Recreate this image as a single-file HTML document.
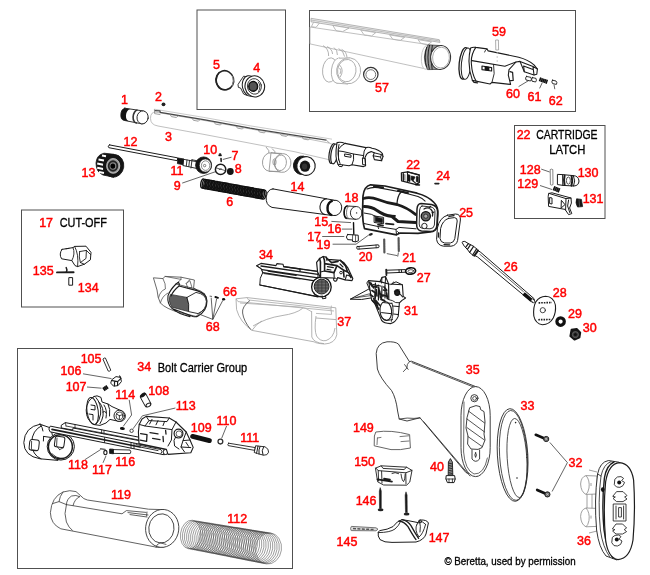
<!DOCTYPE html>
<html><head><meta charset="utf-8"><title>Beretta schematic</title>
<style>
html,body{margin:0;padding:0;background:#fff}
svg{display:block;will-change:transform}
text{font-family:"Liberation Sans",sans-serif}
.r{font-size:12.5px}
.bx{fill:none;stroke:#505050;stroke-width:1}
.r{stroke:#f00;stroke-width:.45px;fill:#f00}
.k{stroke:#000;stroke-width:.3px;fill:#000}
.d{fill:none;stroke:#1c1c1c;stroke-width:.9;stroke-linejoin:round;stroke-linecap:round}
.dw{fill:#fff;stroke:#1c1c1c;stroke-width:.9;stroke-linejoin:round;stroke-linecap:round}
.t{fill:none;stroke:#333;stroke-width:.6;stroke-linejoin:round;stroke-linecap:round}
.tw{fill:#fff;stroke:#333;stroke-width:.6;stroke-linejoin:round}
.m{fill:none;stroke:#777;stroke-width:.8;stroke-linejoin:round}
.l{fill:none;stroke:#a0a0a0;stroke-width:.8;stroke-linejoin:round}
.lw{fill:#fff;stroke:#a0a0a0;stroke-width:.8;stroke-linejoin:round}
.f{fill:#151515;stroke:none}
.fs{fill:#151515;stroke:#151515;stroke-width:.8;stroke-linejoin:round}
.ld{fill:none;stroke:#222;stroke-width:.7}
</style></head><body>
<svg width="650" height="575" viewBox="0 0 650 575">
<rect width="650" height="575" fill="#fff"/>
<rect class="bx" x="197" y="10" width="88.5" height="99.5"/>
<rect class="bx" x="309.5" y="10.5" width="266.0" height="101.0"/>
<rect class="bx" x="514.5" y="125.5" width="90.5" height="93.0"/>
<rect class="bx" x="21.5" y="210" width="102.0" height="97"/>
<rect class="bx" x="17.5" y="348.5" width="275.0" height="220.0"/>
<!-- 01_barrel.svg -->
<g id="p1">
<path class="dw" d="M124.8,108.2 L142.8,110.9 A5.6,6.6 8 0 1 142,123.9 L124.2,120.4 A4.2,6.2 8 0 1 124.8,108.2Z"/>
<path class="f" d="M124.8,108.2 L130.5,109 A4,6 8 0 0 129.8,121.5 L124.2,120.4 A4.2,6.2 8 0 1 124.8,108.2Z"/>
<path d="M137.5,110 A4,6.4 8 0 0 137,123" style="stroke-width:1.6;stroke:#333;fill:none"/>
<ellipse class="dw" cx="142.6" cy="117.4" rx="5.6" ry="6.5" transform="rotate(8 142.6 117.4)"/>
</g>
<circle cx="163.5" cy="104.3" r="1.9" style="fill:#222"/>
<g id="barrel3">
<path class="lw" d="M156,112.2 L205,120.6 L250,128.9 L300,137.4 L329.5,143.2 L333,144.6 L333,160.6 L295,151.8 L205,134.6 L158,126 Q150.5,124.8 150.5,118.4 Q150.5,111.6 156,112.2Z" style="stroke:#b0b0b0"/>
<path class="m" d="M154.4,109.2 L205,117.6 L250,125.8 L300,133.8 L332,139.2" style="stroke-width:.9;stroke:#c4c4c4"/>
<path class="m" d="M154.4,110.6 L160,110.8 L160.2,112.4 L205,119.9 L250,128.2 L300,136.2 L326.5,140.2" style="stroke-width:1.3;stroke:#484848"/>
<path class="m" d="M154.4,109.2 L154.6,113.6 L160.4,114.6 M326.5,140.2 L329.5,143.2" style="stroke-width:.8;stroke:#888"/>
<path class="l" d="M170,114.4 l1.4,2.2 l5,.9 l1.8,-1.8 M192,118.1 l1.4,2.2 l5,.9 l1.8,-1.8 M214,121.9 l1.4,2.2 l5,.9 l1.8,-1.8 M236,125.9 l1.4,2.2 l5,.9 l1.8,-1.8 M258,129.8 l1.4,2.2 l5,.9 l1.8,-1.8 M280,133.3 l1.4,2.2 l5,.9 l1.8,-1.8 M302,136.8 l1.4,2.2 l5,.9 l1.8,-1.8" style="stroke:#888"/>
</g>
<g id="gasring">
<path class="l" d="M266,147 Q270,150 269,155 M272,148.5 Q276,151 275,155" style="stroke:#8c8c8c"/>
<ellipse class="lw" cx="270" cy="162" rx="7.5" ry="9.2" transform="rotate(8 270 162)" style="stroke:#8c8c8c"/>
<path class="lw" d="M271,152.8 L282,154 L281,171.5 L269,171.2Z" stroke="none" style="stroke:#8c8c8c"/>
<path class="l" d="M271,152.8 L282,153.5 M269,171.2 L280.5,172" style="stroke:#8c8c8c"/>
<ellipse class="lw" cx="282.6" cy="163" rx="8.3" ry="9.4" transform="rotate(8 282.6 163)" style="stroke:#8c8c8c"/>
<ellipse class="l" cx="280.6" cy="162.8" rx="5.8" ry="7.8" transform="rotate(8 280.6 162.8)" style="stroke:#8c8c8c"/>
<ellipse class="l" cx="274.5" cy="162" rx="1.6" ry="3.2" style="stroke:#8c8c8c"/>
</g>
<g id="p14">
<ellipse class="fs" cx="302" cy="165.3" rx="8.6" ry="9.3" transform="rotate(10 302 165.3)"/>
<ellipse class="dw" cx="306" cy="166" rx="9.2" ry="9.4" transform="rotate(10 306 166)" style="stroke-width:1.1"/>
<ellipse class="f" cx="305" cy="166.2" rx="5.2" ry="5.6"/>
<ellipse cx="304.6" cy="166.4" rx="2.6" ry="3" style="fill:#333"/>
</g>
<g id="barrelext">
<ellipse class="dw" cx="332.6" cy="153.6" rx="3.4" ry="10" transform="rotate(9 332.6 153.6)" style="stroke-width:1.2"/>
<ellipse class="dw" cx="334.4" cy="153.9" rx="3.4" ry="10" transform="rotate(9 334.4 153.9)" style="stroke-width:1.2"/>
<path class="dw" d="M337,142.6 Q341,141.6 345,143.4 L366,147.6 Q369,146.8 372,148.2 Q379,149.4 382.4,153.6 L383,156.6 L381.6,160.8 L374.4,159.6 L373.2,155.8 L374.2,152.8 L371.2,151.6 Q367.6,152.6 366.6,154.2 L365,157.6 L365.6,165.8 L363.5,166.6 L352,164.8 L349,165.8 L338,164.2 Q334.5,158 337,142.6Z" style="stroke-width:1.1"/>
<path class="d" d="M339,144.5 Q336.5,154 340,163.5 M345,143.4 Q340,146 338.5,149.5 L338.5,160 M352,164.8 Q354.5,160 353.5,154 L363.6,155.6 M353.5,154 L343,151.5 L339,151 M366,147.6 Q363.4,150.6 363.6,155.6 L363.2,158 M374.2,152.8 L381.4,154.6 L383,156.6 M373.2,155.8 L380.6,157 L381.6,160.8 M380.6,157 L381.4,154.6" style="stroke-width:1"/>
<path class="d" d="M345,154 L351,155 L351,157.3 L345,156.3Z M362.8,158 L365.2,158.6 L365.6,165 L363,164.6Z M338,164.5 l1,1.8 l3,.4 l.6,-1.6" style="stroke-width:1"/>
</g>

<!-- 02_piston.svg -->
<g id="p13">
<path class="fs" d="M104,153.2 L114,154.3 L114,177.2 L103,175 Q96,172 96,163 Q96.5,155 104,153.2Z"/>
<path d="M98.5,159.5 l5.5,1 M97.2,163.5 l6,1.2 M97.2,167.8 l6,1.2 M99,172 l5,1 M102,155.6 l4,.7" style="stroke-width:2;stroke:#fff;fill:none"/>
<ellipse class="fs" cx="113.6" cy="165.8" rx="10.2" ry="11.4" transform="rotate(8 113.6 165.8)"/>
<ellipse cx="113.2" cy="165.9" rx="6.6" ry="7.4" style="stroke-width:.8;stroke:#ccc;fill:#999"/>
<ellipse cx="113" cy="166" rx="5.2" ry="5.8" style="fill:#222"/>
<ellipse cx="113" cy="166" rx="3.4" ry="3.8" style="fill:#888"/>
<ellipse cx="112.8" cy="166.1" rx="2.4" ry="2.7" style="fill:#000"/>
</g>
<g id="rod12">
<path class="dw" d="M109.4,144.9 L177.8,157.9 L177.2,160.7 L108.8,147.7 Q107.2,146.2 109.4,144.9Z" style="stroke-width:1"/>
</g>
<g id="p11">
<path class="fs" d="M178,158 L184,159 L183.4,164.8 L177.4,163.6Z"/>
<path class="dw" d="M184,159.4 L198.5,162 L197.5,168.6 L183.3,165.6Z"/>
<path class="d" d="M187,160 L186.3,166 M189.5,160.4 L188.8,166.6 M192,159.8 L191,168 M192,159.8 L198.5,161"/>
</g>
<g id="p10">
<ellipse class="fs" cx="203.6" cy="165.2" rx="8" ry="8.3"/>
<ellipse cx="205.3" cy="165.5" rx="6" ry="6.6" style="stroke-width:.7;stroke:#222;fill:#fff"/>
<ellipse cx="205.6" cy="165.6" rx="4.2" ry="4.8" style="stroke-width:.6;stroke:#444;fill:#fff"/>
<circle cx="204.6" cy="165.6" r="1.2" style="stroke-width:.6;stroke:#333;fill:#fff"/>
</g>
<g id="p9">
<circle cx="220.6" cy="169.4" r="5.2" style="stroke-width:1.5;stroke:#1c1c1c;fill:#fff"/>
<path class="d" d="M216.5,168 L225,170.5 M219.2,169.6 l2,-.8" style="stroke-width:.7"/>
</g>
<circle cx="230.3" cy="171.5" r="3.4" style="fill:#151515"/>
<g id="p7">
<path class="fs" d="M219.3,153.6 l1.6,0 l0,1.2 l.6,0 l0,1.2 l-2.8,0 l0,-1.2 l.6,0Z" style="stroke-width:.4"/>
<path d="M221,158.4 L221.2,161.4" style="stroke-width:1.5;stroke-linecap:round;stroke:#111"/>
</g>
<path class="ld" d="M222.8,159.5 L231.5,157.2 M182.2,183.1 L215.8,171.6"/>

<!-- 03_spring6.svg -->
<g id="spring6">
<ellipse cx="203.0" cy="183.6" rx="2.2" ry="4.6" transform="rotate(10.3 203.0 183.6)" style="stroke-width:1.35;stroke:#111;fill:none"/>
<ellipse cx="204.6" cy="183.9" rx="2.2" ry="4.6" transform="rotate(10.3 204.6 183.9)" style="stroke-width:1.35;stroke:#111;fill:none"/>
<ellipse cx="206.1" cy="184.2" rx="2.2" ry="4.6" transform="rotate(10.3 206.1 184.2)" style="stroke-width:1.35;stroke:#111;fill:none"/>
<ellipse cx="207.7" cy="184.4" rx="2.2" ry="4.6" transform="rotate(10.3 207.7 184.4)" style="stroke-width:1.35;stroke:#111;fill:none"/>
<ellipse cx="209.2" cy="184.7" rx="2.2" ry="4.6" transform="rotate(10.3 209.2 184.7)" style="stroke-width:1.35;stroke:#111;fill:none"/>
<ellipse cx="210.8" cy="185.0" rx="2.2" ry="4.6" transform="rotate(10.3 210.8 185.0)" style="stroke-width:1.35;stroke:#111;fill:none"/>
<ellipse cx="212.4" cy="185.3" rx="2.2" ry="4.6" transform="rotate(10.3 212.4 185.3)" style="stroke-width:1.35;stroke:#111;fill:none"/>
<ellipse cx="213.9" cy="185.6" rx="2.2" ry="4.6" transform="rotate(10.3 213.9 185.6)" style="stroke-width:1.35;stroke:#111;fill:none"/>
<ellipse cx="215.5" cy="185.9" rx="2.2" ry="4.6" transform="rotate(10.3 215.5 185.9)" style="stroke-width:1.35;stroke:#111;fill:none"/>
<ellipse cx="217.0" cy="186.1" rx="2.2" ry="4.6" transform="rotate(10.3 217.0 186.1)" style="stroke-width:1.35;stroke:#111;fill:none"/>
<ellipse cx="218.6" cy="186.4" rx="2.2" ry="4.6" transform="rotate(10.3 218.6 186.4)" style="stroke-width:1.35;stroke:#111;fill:none"/>
<ellipse cx="220.1" cy="186.7" rx="2.2" ry="4.6" transform="rotate(10.3 220.1 186.7)" style="stroke-width:1.35;stroke:#111;fill:none"/>
<ellipse cx="221.7" cy="187.0" rx="2.2" ry="4.6" transform="rotate(10.3 221.7 187.0)" style="stroke-width:1.35;stroke:#111;fill:none"/>
<ellipse cx="223.3" cy="187.3" rx="2.2" ry="4.6" transform="rotate(10.3 223.3 187.3)" style="stroke-width:1.35;stroke:#111;fill:none"/>
<ellipse cx="224.8" cy="187.5" rx="2.2" ry="4.6" transform="rotate(10.3 224.8 187.5)" style="stroke-width:1.35;stroke:#111;fill:none"/>
<ellipse cx="226.4" cy="187.8" rx="2.2" ry="4.6" transform="rotate(10.3 226.4 187.8)" style="stroke-width:1.35;stroke:#111;fill:none"/>
<ellipse cx="227.9" cy="188.1" rx="2.2" ry="4.6" transform="rotate(10.3 227.9 188.1)" style="stroke-width:1.35;stroke:#111;fill:none"/>
<ellipse cx="229.5" cy="188.4" rx="2.2" ry="4.6" transform="rotate(10.3 229.5 188.4)" style="stroke-width:1.35;stroke:#111;fill:none"/>
<ellipse cx="231.1" cy="188.7" rx="2.2" ry="4.6" transform="rotate(10.3 231.1 188.7)" style="stroke-width:1.35;stroke:#111;fill:none"/>
<ellipse cx="232.6" cy="189.0" rx="2.2" ry="4.6" transform="rotate(10.3 232.6 189.0)" style="stroke-width:1.35;stroke:#111;fill:none"/>
<ellipse cx="234.2" cy="189.2" rx="2.2" ry="4.6" transform="rotate(10.3 234.2 189.2)" style="stroke-width:1.35;stroke:#111;fill:none"/>
<ellipse cx="235.7" cy="189.5" rx="2.2" ry="4.6" transform="rotate(10.3 235.7 189.5)" style="stroke-width:1.35;stroke:#111;fill:none"/>
<ellipse cx="237.3" cy="189.8" rx="2.2" ry="4.6" transform="rotate(10.3 237.3 189.8)" style="stroke-width:1.35;stroke:#111;fill:none"/>
<ellipse cx="238.9" cy="190.1" rx="2.2" ry="4.6" transform="rotate(10.3 238.9 190.1)" style="stroke-width:1.35;stroke:#111;fill:none"/>
<ellipse cx="240.4" cy="190.4" rx="2.2" ry="4.6" transform="rotate(10.3 240.4 190.4)" style="stroke-width:1.35;stroke:#111;fill:none"/>
<ellipse cx="242.0" cy="190.7" rx="2.2" ry="4.6" transform="rotate(10.3 242.0 190.7)" style="stroke-width:1.35;stroke:#111;fill:none"/>
<ellipse cx="243.5" cy="190.9" rx="2.2" ry="4.6" transform="rotate(10.3 243.5 190.9)" style="stroke-width:1.35;stroke:#111;fill:none"/>
<ellipse cx="245.1" cy="191.2" rx="2.2" ry="4.6" transform="rotate(10.3 245.1 191.2)" style="stroke-width:1.35;stroke:#111;fill:none"/>
<ellipse cx="246.7" cy="191.5" rx="2.2" ry="4.6" transform="rotate(10.3 246.7 191.5)" style="stroke-width:1.35;stroke:#111;fill:none"/>
<ellipse cx="248.2" cy="191.8" rx="2.2" ry="4.6" transform="rotate(10.3 248.2 191.8)" style="stroke-width:1.35;stroke:#111;fill:none"/>
<ellipse cx="249.8" cy="192.1" rx="2.2" ry="4.6" transform="rotate(10.3 249.8 192.1)" style="stroke-width:1.35;stroke:#111;fill:none"/>
<ellipse cx="251.3" cy="192.3" rx="2.2" ry="4.6" transform="rotate(10.3 251.3 192.3)" style="stroke-width:1.35;stroke:#111;fill:none"/>
<ellipse cx="252.9" cy="192.6" rx="2.2" ry="4.6" transform="rotate(10.3 252.9 192.6)" style="stroke-width:1.35;stroke:#111;fill:none"/>
<ellipse cx="254.4" cy="192.9" rx="2.2" ry="4.6" transform="rotate(10.3 254.4 192.9)" style="stroke-width:1.35;stroke:#111;fill:none"/>
<ellipse cx="256.0" cy="193.2" rx="2.2" ry="4.6" transform="rotate(10.3 256.0 193.2)" style="stroke-width:1.35;stroke:#111;fill:none"/>
<ellipse cx="257.6" cy="193.5" rx="2.2" ry="4.6" transform="rotate(10.3 257.6 193.5)" style="stroke-width:1.35;stroke:#111;fill:none"/>
<ellipse cx="259.1" cy="193.8" rx="2.2" ry="4.6" transform="rotate(10.3 259.1 193.8)" style="stroke-width:1.35;stroke:#111;fill:none"/>
<ellipse cx="260.7" cy="194.0" rx="2.2" ry="4.6" transform="rotate(10.3 260.7 194.0)" style="stroke-width:1.35;stroke:#111;fill:none"/>
<ellipse cx="262.2" cy="194.3" rx="2.2" ry="4.6" transform="rotate(10.3 262.2 194.3)" style="stroke-width:1.35;stroke:#111;fill:none"/>
<ellipse cx="263.8" cy="194.6" rx="2.2" ry="4.6" transform="rotate(10.3 263.8 194.6)" style="stroke-width:1.35;stroke:#111;fill:none"/>
</g>

<!-- 04_magtube.svg -->
<g id="magtube">
<path class="dw" d="M273,188.9 L334,200.2 A7,7.8 10 0 1 333,215.6 L272,207.4 Q265.5,205 266.2,197 Q267.5,189 273,188.9Z" style="stroke-width:1"/>
<path class="d" d="M326.5,198.8 A6.5,8 10 0 0 325,214.6" style="stroke-width:1.1"/>
<ellipse cx="334.8" cy="207.9" rx="6.9" ry="7.7" transform="rotate(10 334.8 207.9)" style="stroke-width:.9;stroke:#111;fill:#fff"/>
<path d="M332.6,200.6 A6.9,7.7 10 0 0 331.8,215.2" style="stroke-width:2.2;stroke:#111;fill:none"/>
</g>
<g id="p18">
<path class="dw" d="M347.2,206 L356,206.5 L356,219.3 L346.8,218.6 A3.4,6.4 0 0 1 347.2,206Z"/>
<path d="M347.2,206 A3.4,6.4 0 0 0 346.8,218.6" style="stroke-width:1.6;stroke:#111;fill:none"/>
<path class="m" d="M349.5,206.2 A3.4,6.4 0 0 0 349.2,218.8" style="stroke:#555"/>
<ellipse class="dw" cx="356.2" cy="212.9" rx="5.8" ry="6.4"/>
<circle cx="356.6" cy="212.9" r=".7" style="fill:#222"/>
</g>
<g id="p15-20">
<path class="ld" d="M331.4,221.4 L351,222.6 M341.8,229.1 L352.3,229.1 M322.2,236.5 L344.3,236.5 M332.6,244.2 L356,244.2 L368.9,234.9"/>
<path d="M353.5,222.6 L353.8,234.3" style="stroke-width:1.4;stroke-linecap:round;stroke:#111"/>
<path class="dw" d="M347.6,234.5 L358.2,235.2 L358.4,240.8 L355.5,241.8 L352.5,241.4 L352.5,240 L347.6,239.6 Q345,237 347.6,234.5Z" style="stroke-width:1"/>
<path class="d" d="M352.6,234.8 L352.5,240 M355.6,235.2 L355.5,241.8" style="stroke-width:.7"/>
<ellipse cx="370.8" cy="234.4" rx="2.1" ry="1.1" transform="rotate(-20 370.8 234.4)" style="fill:#222"/>
<path class="dw" d="M357.2,246.6 L378.4,244.8 Q379.8,246 378.6,247.6 L357.4,249.2 Q355.8,248 357.2,246.6Z" style="stroke-width:1"/>
<path class="d" d="M359,246.5 L359.2,249 M376,245 L376.2,247.8" style="stroke-width:.7"/>
</g>

<!-- 05_receiver.svg -->
<g id="receiver">
<path class="dw" d="M370.5,184.8 L385,186 L417,193.2 Q428,196 434,202.5 Q438.5,207 437.8,215 L437,226 Q436,231.5 430,232 L418,233.4 L400,233 L396.5,234.8 L364.5,228.6 Q362.5,222 362.6,210 L363,196 Q364,186.5 370.5,184.8Z" style="stroke-width:1.7"/>
<path class="d" d="M367,189 Q372,186.8 378,187.6 L401,192 L418,196.5 Q423,198.5 425,201 M401,192 Q397.5,196 397,203.5" style="stroke-width:1.2"/>
<path class="d" d="M374,186.4 L383,187.6 M398,190.8 L408,193" style="stroke-width:2"/>
<path class="d" d="M363.4,198.5 Q370,196.5 378,199.5 Q388,203.5 397,204.5 Q407,207.5 415.5,214.4" style="stroke-width:2.8"/>
<path class="d" d="M364,206.6 Q371,206.5 377,210.5 Q384,215.5 392,216.5 L398,221.5 L415.5,222.4" style="stroke-width:3"/>
<path class="d" d="M364.2,213 Q372,213.5 377,217 M364.4,223.6 L378,226.5 L396,229.4 L399,227.4 L416,228.8 M396.5,234.8 L396,229.4" style="stroke-width:1"/>
<path class="fs" d="M375.4,217.2 L382.4,218.4 L382.4,222.6 L375.4,221.6Z"/>
<path class="d" d="M384.4,215.2 L395,216 M386,223.6 L393.5,224.4 M378,224.6 L383,225.6" style="stroke-width:1.8"/>
<path class="d" d="M374.5,216 L383.6,217.4 L383.6,223.8 L374.5,222.5Z M378,227 l.6,1.6 M397.6,231.6 l1.4,1.4" style="stroke-width:1"/>
<path class="dw" d="M421,203.6 L431.5,204.6 Q437.6,206 437.6,212 L436.8,226 Q436,231.2 430.5,231.4 L421.5,231 Q416.5,230.4 416.6,224 L417,209 Q417.4,203.8 421,203.6Z" style="stroke-width:1.5"/>
<path class="d" d="M422,206 L431,207 Q435.2,208 435,212.4 L434.4,225 Q434,228.6 430,228.8 L422.4,228.4 Q419,228 419.2,224 L419.6,210 Q420,206 422,206Z" style="stroke-width:.9"/>
<circle cx="425.8" cy="216.2" r="4.6" style="stroke-width:1.3;stroke:#111;fill:#666"/>
<circle cx="425.8" cy="216.2" r="2.1" style="stroke-width:.8;stroke:#222;fill:#aaa"/>
<path class="d" d="M424,209 Q428,206.5 431,209.5 Q433.5,212 432.4,216 M429,208 l1.6,-1.6 M432,212.6 l2,-.4" style="stroke-width:1.3"/>
<circle cx="424.4" cy="226" r="2.7" style="stroke-width:.9;stroke:#111;fill:#fff"/>
</g>
<g id="p22">
<path class="dw" d="M401.4,172.8 L407.5,171.8 L419.2,175 L419.4,182.4 L416,184.6 L401.6,180.8Z" style="stroke-width:1.3"/>
<path d="M402.2,173.6 L405.6,174.4 L405.6,180.8 L402.2,180Z" style="fill:#999"/>
<path class="fs" d="M407.6,174.6 L410,175.2 L410,181.4 L407.6,180.8Z M411.4,176 L415,177 L413,181 L411,179.6Z M416.4,176.4 L418.2,176.8 L418.2,182 L416.4,181.6Z"/>
<path class="d" d="M403.4,173.6 L403.4,180.6 M407.5,171.8 L407.4,181.4 M407.5,171.8 L419.2,175 M413,181 L416,183.4" style="stroke-width:1.1"/>
<path d="M415.8,184.6 L419.4,185" style="stroke-width:1.6;stroke-linecap:round;stroke:#111;fill:none"/>
</g>
<path d="M435,183.6 L438.8,183.6" style="stroke-width:1.6;stroke-linecap:round;stroke:#222"/>
<g id="p25">
<path class="dw" d="M447.5,215.2 L455.6,214 Q460.8,214.2 460.4,220 L457.6,240.4 Q456.4,245.6 451,246.2 L443.6,246.2 Q437.4,245.4 436.6,239.4 L437.4,228 Q439.5,217.5 447.5,215.2Z" style="stroke-width:1"/>
<path class="dw" d="M448.4,218.4 L454.4,217.6 Q457.4,217.8 457.2,221 L454.8,238.6 Q454,242.6 450.4,243 L444.6,243 Q440.4,242.4 440,238.4 L440.6,228.6 Q442.4,220.4 448.4,218.4Z" style="stroke-width:1"/>
<path class="d" d="M449,216.4 l5,-.8 M444,244.6 l5.6,.2 M438.6,233 l-.2,4" style="stroke-width:1.3"/>
</g>
<g id="pins21">
<path d="M384.2,239.6 L384.4,252.4 M398.6,238.2 L398.8,251" style="stroke-width:2.2;stroke-dasharray:1.1 .5;stroke-linecap:round;stroke:#555"/>
<path class="ld" d="M386.8,253.6 L397.2,255.6 M398.4,252.4 L397.7,256.6"/>
</g>

<!-- 06_rod26.svg -->
<g id="rod26">
<path class="dw" d="M463,241.6 L464.8,241.4 L468.4,243.6 L472,245.4 L474.6,247 L478.2,250.6 L480.8,252.4 L534,298.6 Q535.6,301.4 532.8,302.8 L477.6,257 L475,255.6 L472.6,255 L469.6,252.4 L467.4,249.4 L464.4,246.4 L462.4,243Z" style="stroke-width:1"/>
<path class="d" d="M479.8,254.2 L523.4,291.6" style="stroke-width:.7"/>
<path class="d" d="M465.6,247.4 L468.4,243.6 M467.4,249.4 L470.4,244.8 M469.6,252.4 L473.6,246.4 M472.6,255 L476.6,248.8" style="stroke-width:1.2"/>
<path class="d" d="M474.4,255.6 L478,250.6" style="stroke-width:2"/>
<path d="M523.6,293.6 L531.6,300.4" style="stroke-width:3.6;stroke:#111;fill:none"/>
<ellipse class="dw" cx="533" cy="300.8" rx="1.4" ry="2.2" transform="rotate(-45 533 300.8)" style="stroke-width:.8"/>
</g>
<g id="p28">
<path class="dw" d="M545.6,296.2 Q553.4,296.4 555.4,305 Q556.2,312 553.2,318 Q549.6,324.6 542.4,324.8 Q535.4,323.6 533.8,316 Q533,307 536,301.6 Q539.4,296.4 545.6,296.2Z" style="stroke-width:1.1"/>
<circle class="dw" cx="542.8" cy="310.2" r="2.6" style="stroke-width:.8"/>
<path d="M538.6,302.9 L552,302.5 M538.3,319.7 L550.8,319.5" style="stroke-width:1.6;stroke-dasharray:1.6 1;stroke:#222;fill:none"/>
</g>
<circle cx="560.6" cy="321.6" r="3.7" style="stroke-width:3.2;stroke:#111;fill:#fff"/>
<g id="p30">
<path class="fs" d="M571.4,329.6 L576.8,328.8 L580.4,332.6 L579.6,337.6 L574.6,339.8 L570.2,336.2Z" style="stroke-width:1.6"/>
<circle cx="575.4" cy="334.6" r="3.1" style="stroke-width:.6;stroke:#777;fill:#3a3a3a"/>
<circle cx="575.4" cy="334.6" r="1.5" style="fill:#111"/>
</g>

<!-- 07_trigger.svg -->
<g id="p27">
<path class="dw" d="M387,270.2 L405.4,269.6 L405.6,272.2 L387.2,273Z" style="stroke-width:1"/>
<path class="d" d="M386.2,269.6 L386.4,275" style="stroke-width:1.8"/>
<path class="d" d="M399,270 L399.2,272.6 M401.4,270 L401.6,272.4" style="stroke-width:1"/>
<ellipse cx="410.6" cy="271" rx="5" ry="3.2" transform="rotate(-8 410.6 271)" style="stroke-width:1.7;stroke:#111;fill:#fff"/>
<ellipse class="d" cx="410.8" cy="271.2" rx="2.8" ry="1.5" transform="rotate(-8 410.8 271.2)" style="stroke-width:.7"/>
</g>
<g id="p31">
<path class="dw" d="M350.6,299 L369.6,288.6 L372,291 L373.4,297.6 L362,299.4Z" style="stroke-width:1"/>
<path class="d" d="M350.6,299 L371,293.4 M356,297.6 L372.6,295.4" style="stroke-width:.7"/>
<path class="dw" d="M368.6,280.6 L380,281.6 L382,277.4 L385.6,276.6 L387.4,281 L388.6,284 L402.4,284.8 L403.2,296.4 L405.6,298 L402,300.4 L399.4,302.8 L398.2,316.4 Q395.6,322.6 390.4,323.6 Q384,323.4 381.6,320.4 L374.6,303 L371.6,300 L370.2,291 Z" style="stroke-width:1.1"/>
<ellipse class="dw" cx="385.8" cy="311" rx="5.8" ry="9.6" transform="rotate(-6 385.8 311)" style="stroke-width:1.1"/>
<path class="d" d="M392,303 Q394.6,311 391.4,321.4 M381.8,317.6 Q386,322 392.6,319.4 M399.4,302.8 Q395,303.4 392.4,300.6 L388.6,299.6" style="stroke-width:.9"/>
<path class="d" d="M388.6,284 L388.8,299.4 M380,281.6 L388.6,284 M373,284.6 L380.6,286 M375.4,283 L375,296 M378.6,285 L378.4,300 M382,286 L381.6,299 M385,284.6 L385,298" style="stroke-width:1.2"/>
<path class="d" d="M371,283 L373.6,288 M376.4,289.6 L377,296 M379.6,291 L380.4,298 M373.6,298.6 L377.6,306 M375.4,300 L380,305.4 M383.4,290 L386.6,291 M383,295 L387.6,296.4" style="stroke-width:1.6"/>
<path class="d" d="M382,277.4 L381.6,283 M385.6,276.6 L385.2,283.6 M391,284.4 L396,281.8 L402.4,284.8 M392.6,283.6 L393.4,282" style="stroke-width:1"/>
<circle cx="397.2" cy="292.8" r="2.5" style="stroke-width:1.2;stroke:#111;fill:#222"/>
<path class="d" d="M394.4,291.4 Q396,288.6 399.4,290 M400,294 L402.6,296.8" style="stroke-width:1.1"/>
<path class="d" d="M369.6,282.6 L372.4,286.4 L377,287 M372,290.6 L375.6,293 L375,298.6 M378.6,288 L379.6,293.6 L383,296 M384,287 L386.6,290 M372.6,300.6 L376,304.4 L378.6,309 M381,299.4 L384.6,300.6 M386.6,293 L387.4,298.6 M370.4,294.6 L373,296.6" style="stroke-width:1.8"/>
<path class="d" d="M383.6,302.6 L391.6,303.4 M381.6,312.6 L390.6,313.6 M392.6,306 L399,306.6 M393.6,314 L398.6,314.6 M368.4,280.6 L366.8,283 L370.2,291" style="stroke-width:1"/>
</g>

<!-- 08_bolt34.svg -->
<g id="bolt34">
<path class="dw" d="M262.8,272.4 L318,281 L318,296.6 L259.8,285 Q259.2,278 262.8,272.4Z" style="stroke-width:1"/>
<path class="d" d="M259.8,285 L318,296.8" style="stroke-width:1.2"/>
<path class="dw" d="M256.6,265.8 L261,263.4 L276,265.6 L277,263.6 L283,264.2 L283.6,266.6 L318,271.4 L318,281.4 L262.8,272.6 L261,268.6Z" style="stroke-width:1.1"/>
<path class="d" d="M261,266 L318,274.4 M262,269.6 L318,277.8 M268,271 L296,275.4 M283.6,266.6 L300,269 L300,271.6" style="stroke-width:1.3"/>
<path class="d" d="M256.6,265.8 L261,268.6 M264,273.6 L300,279 M300,269 L318,271.6" style="stroke-width:.8"/>
<circle cx="321.4" cy="287" r="9.8" style="stroke-width:1.3;stroke:#111;fill:#fff"/>
<circle cx="321.6" cy="286.6" r="7.4" style="stroke-width:1;stroke:#222;fill:#6a6a6a"/>
<path d="M316,282 L327.6,282 M315,285 L328.6,285 M315,288 L328.6,288 M316.4,291 L327,291 M321.8,279 L321.8,292.6 M318,280 L318,292 M325.6,280 L325.6,292" style="stroke-width:.7;stroke:#333;fill:none"/>
<path class="d" d="M313.4,292 Q316,297.6 322.6,296.2 M322,296.4 l.6,2.4 l3.4,-.6 l-.6,-2.4" style="stroke-width:1"/>
<path class="dw" d="M316.6,262.4 L319.6,258.6 L323.2,256.6 L326,257 L328,259.4 L340.4,260.4 L344,262.8 L348,268.2 L352.8,278.6 L352,280.6 L345.2,279.8 L341,278.6 L337.6,277.6 L336.6,280.6 Q334.6,281.6 333.8,279.8 L333.6,278 L320.4,277.6 L317.6,272Z" style="stroke-width:1.2"/>
<path class="d" d="M319.6,258.6 Q321,262 320.4,266 L320.4,277.6 M323.2,256.6 Q325,260 324.6,263.6 L337,265.6 L343.4,270 L344,277 M328,259.4 L331.6,262.6 L338,261.4 M324.6,263.6 L324.6,271 L334,272.6 L337,265.6 M340.4,260.4 L345.6,266 L347.6,272 M343.4,270 L348.6,272.6 L351,277.6" style="stroke-width:1.6"/>
<path class="d" d="M327.4,266.6 L333.4,267.6 M327,269.4 L331,270 M334,272.6 L334.2,277.6 M324.6,271 L320.4,272 M345.2,279.8 L346.6,275 L351.4,276.6 M326,257 L327,260.6 M340,264 L343,267" style="stroke-width:1.1"/>
<circle cx="341" cy="272.6" r="1.3" style="stroke-width:.9;stroke:#111;fill:#fff"/>
<circle cx="335.2" cy="279.6" r="1.5" style="stroke-width:.9;stroke:#111;fill:#fff"/>
</g>

<!-- 09_forendcap.svg -->
<g id="forendcap">
<path class="tw" d="M153.4,277.8 L163,278.6 L165,276.4 L181,277.2 L194.4,280 L193.6,288 L206,296 L205.6,308 L196,316.4 L180,312.6 Q166,309 160.4,303 Q157.6,298 157,290 Z" style="stroke-width:.8;stroke:#444"/>
<path class="t" d="M163,278.6 Q166,284 165.4,289 Q160,291 158.6,297.6 M165,276.4 L181,279.4 L178,282.4 M181,277.2 L181,279.4 M160.4,303 Q162,296 168,293 M186,283.6 L190,279.4 M190,281 L192,287.6 L188,288.6 L186.4,284 Z" style="stroke-width:.8;stroke:#555"/>
<path d="M170.4,294.4 L187,297.4 Q189.6,304 188.6,311.6 L172,307.2 Q167.6,301 170.4,294.4Z" style="stroke-width:.7;stroke:#222;fill:#5e5e5e"/>
<path class="dw" d="M187,297.4 L196,292.4 Q206,294 206.4,301.6 Q206.4,309.6 198,313.6 L188.6,311.6 Q189.6,304 187,297.4Z" style="stroke-width:.9"/>
<path class="d" d="M168,295.6 Q170,290 176,284 L178.4,282.2 Q180,284 179,286 Q173,291 171,296 M179,286 L196,290.4 Q206.6,293 207,301 Q207,311 198,316 Q196,317.4 193,316.4 L172,308.4 Q167,304 168,295.6 M172,308.4 Q178,314 190,316.6" style="stroke-width:1.1"/>
<path class="d" d="M176,284 L194,288.6 Q201,290.4 205,294" style="stroke-width:.7"/>
<path d="M209.6,296 L212,296.6" style="stroke-width:1.2;stroke:#777;fill:none"/>
<path d="M215.4,297 L218,297.8" style="stroke-width:1.9;stroke-linecap:round;stroke:#111;fill:none"/>
<ellipse cx="223.6" cy="299.2" rx="1.6" ry="1.2" style="fill:#111"/>
<path class="ld" d="M200.4,314.6 L212.8,319.4 L211.2,297.8 M212.8,319.4 L216.6,298.8 M212.8,319.4 L222.8,300.4"/>
</g>

<!-- 10_forend37.svg -->
<g id="forend37">
<path class="lw" d="M236,298.8 L247,297.6 L335.8,307.8 L336.8,334.8 Q335,343.6 324.6,344 Q316,343.4 314,341.8 L252,330.4 Q240,322 236.6,309.6Z"/>
<path class="l" d="M236,298.8 L238,301.6 L334,311 M247,297.6 L248.6,300 L331,309 L331.4,305.6 M240,303 L300,307 Q306,307.6 311.4,311.6 M331,309 L331.6,314.4 L316,313.4" style="stroke:#aaa"/>
<path class="l" d="M311.6,311 L311.8,337 Q314,343 324,343.6 M316,316 Q314,330 316.6,336 Q320,341.6 326,340.6 Q333.6,338 335,328 M316,318 L336,319.6 M253,326 Q266,318 282,315.6 Q296,313.6 302.6,308.4 M252,330.4 Q256,324 262,321"/>
<path d="M250,300.4 Q241.6,307 242.6,313 Q243.6,321 250.8,329.6" style="stroke-width:.9;stroke:#555;fill:none"/>
</g>

<!-- 11_box1.svg -->
<g id="p5">
<ellipse cx="224.8" cy="80.2" rx="8.9" ry="9.6" transform="rotate(-15 224.8 80.2)" style="stroke-width:1.5;stroke:#222;fill:#fff"/>
<path d="M219,72.6 Q213.6,80 218.6,87.4 Q222.4,91 228,89.2" style="stroke-width:1.4;stroke:#222;fill:none"/>
<path d="M232.6,76 Q234.6,81.6 232,86" style="stroke-width:1;stroke:#888;fill:none"/>
</g>
<g id="p4">
<path class="dw" d="M246,76.6 L243.6,76.2 L239.6,82 L238,84.6 L238.4,87.4 L240.6,88 L243.6,94 L247,95.4Z" style="stroke-width:.9"/>
<ellipse class="dw" cx="250" cy="86" rx="7.6" ry="10.4" transform="rotate(-12 250 86)" style="stroke-width:1"/>
<ellipse class="dw" cx="254.8" cy="86.4" rx="9.8" ry="10.6" transform="rotate(-12 254.8 86.4)" style="stroke-width:1.1"/>
<ellipse class="dw" cx="254.4" cy="86.4" rx="7" ry="7.8" transform="rotate(-12 254.4 86.4)" style="stroke-width:.8"/>
<ellipse cx="253.2" cy="86.4" rx="4.4" ry="4.8" style="stroke-width:1.5;stroke:#111;fill:#555"/>
<path class="d" d="M258.4,82 Q261.4,86.4 258.6,91.6" style="stroke-width:.8"/>
</g>

<!-- 12_box2.svg -->
<g id="box2barrel">
<path class="lw" d="M310,27 L421.5,43.6 L428,45 L428,69.4 L310,43.9Z" style="stroke:#b0b0b0"/>
<path d="M311,18.3 L439.3,39.7 L440,42.4 L311,21.8Z" style="stroke-width:.8;stroke:#a4a4a4;fill:#ececec"/>
<path class="l" d="M311,20 L439.6,41" style="stroke:#b0b0b0"/>
<path class="lw" d="M313.6,22.2 L311.4,26.6 L316,27.4 L319.4,23.2Z M332.8,25.4 L336,30.6 L342.6,31.6 L349,28.1Z M360.8,30.1 L364,34.8 L371.6,35.9 L375.8,32.6Z M389.6,34.9 L392.8,39.2 L400.4,40.3 L404.6,37.4Z M418,39.6 L420.6,43.2 L428,44.6 L431.6,41.9Z" style="stroke:#aaa"/>
<path class="l" d="M323,45.6 Q329,49 328.6,56 M327,46.6 Q332,48.6 332.6,54 M334,47.6 Q337.6,50 337.4,55 M338.6,48.6 Q343.6,50.6 344.6,56.6 M341.6,49.4 Q346.6,51.6 347,57.4"/>
<ellipse class="lw" cx="330" cy="70" rx="7.4" ry="12.2" transform="rotate(6 330 70)"/>
<ellipse class="lw" cx="338" cy="70.6" rx="6.6" ry="12.6" transform="rotate(6 338 70.6)"/>
<path d="M338,58 L350,58.4 L350,83.6 L337,83.2Z" style="fill:#fff"/>
<path class="l" d="M338.6,58.2 L350,58 M336.6,83.2 L348,84"/>
<ellipse class="lw" cx="348.6" cy="70.8" rx="12" ry="13" transform="rotate(8 348.6 70.8)"/>
<ellipse class="l" cx="346.8" cy="70.6" rx="9.2" ry="11.2" transform="rotate(8 346.8 70.6)"/>
<path class="l" d="M339.6,65 Q344.6,70 340,77.4 M339.6,68 Q342,70.6 340,74"/>
<circle cx="370.8" cy="74.6" r="7.2" style="stroke-width:1.2;stroke:#333;fill:#fff"/>
<circle cx="370.8" cy="74.6" r="4.9" style="stroke-width:.9;stroke:#666;fill:#fff"/>
<ellipse class="lw" cx="426" cy="57.4" rx="4.6" ry="11.8" transform="rotate(4 426 57.4)" style="stroke:#bbb"/>
<path d="M428,44.8 L440.6,45.6 L440.6,69.4 L427.6,69.6 Q421,57 428,44.8Z" style="stroke-width:.8;stroke:#444;fill:#999"/>
<path d="M426.8,47 Q423.6,57 426.6,67.4 M429.6,45 Q426.4,57 429.4,69.4 M432.4,45 Q429.4,57 432.2,69.6" style="stroke-width:1;stroke:#222;fill:none"/>
<ellipse cx="440.6" cy="57.5" rx="10" ry="12" transform="rotate(4 440.6 57.5)" style="stroke-width:1;stroke:#333;fill:#fff"/>
<ellipse cx="441" cy="57.6" rx="8.4" ry="10.4" transform="rotate(4 441 57.6)" style="stroke-width:.8;stroke:#999;fill:#fff"/>
</g>
<g id="ext59">
<ellipse class="dw" cx="464.2" cy="63.4" rx="5" ry="15.8" transform="rotate(6 464.2 63.4)" style="stroke-width:1.3"/>
<ellipse class="dw" cx="466.4" cy="63.6" rx="5" ry="15.8" transform="rotate(6 466.4 63.6)" style="stroke-width:1"/>
<path class="dw" d="M470.6,48 Q473,46.8 475.8,47.4 L486.9,48.9 L488.2,50.9 L518.7,57.2 Q528,59.6 534,64.8 L537.4,69 L536.8,74.2 L534,75 L524.3,71.8 L520,61.4 L516,62 L509,69.6 L508.3,75.2 L510.6,84.4 L492,82.4 L490,84 L472.4,80.4 Q466.6,64 470.6,48Z" style="stroke-width:1.1"/>
<path class="d" d="M475.8,47.4 Q470.6,55 471.4,64 Q472,74 476,81 M472,60.6 L504.9,66.2 L516,62 M520,61.4 L533,66.6 L537.4,69 M533,66.6 L534,75 M524.3,71.8 L523.6,66 L533,69.6" style="stroke-width:1.1"/>
<path class="d" d="M492,82.4 Q495.6,74 493.6,64.4 M486.9,48.9 Q485,50 484.6,52" style="stroke-width:.9"/>
<path class="d" d="M482,66 L491.6,67.6 L491.6,71 L482,69.6Z M510,71.6 L512.6,72.4 L513.2,80.4 L510.6,80.6 M472.4,80.4 l1.6,2 l3.6,.4" style="stroke-width:1.2"/>
<path class="fs" d="M485,66.6 L489,67.2 L489,70.4 L485,69.8Z"/>
<path class="tw" d="M495.6,40 L498.4,40 L498.6,50 L495.8,50Z" style="stroke-width:.8;stroke:#999"/>
<path class="l" d="M497.2,52 L497.2,64" style="stroke-dasharray:2 2;stroke:#bbb"/>
</g>
<g id="p60-62">
<path class="dw" d="M526.4,76.4 L531,77.4 Q532,79.4 530.6,81 L526,80 Q524.8,78 526.4,76.4Z M532.4,77.6 L536,78.4 Q537,80.4 535.6,82 L532,81.2 Q531,79.4 532.4,77.6Z" style="stroke-width:.9"/>
<path d="M539.4,79.2 L547.4,82" style="stroke-width:4;stroke-dasharray:1.6 .15;stroke:#111;fill:none"/>
<path class="dw" d="M552.4,80.2 L556,81 Q557.6,82.6 556.4,84.4 L552.6,83.6 Q551,82 552.4,80.2Z" style="stroke-width:.9"/>
<path class="ld" d="M518.6,86.6 L528.6,80.6 M539.6,88.4 L542.2,82.8 M554.8,89.2 L554,84.6"/>
</g>

<!-- 13_latchbox.svg -->
<g id="latchbox">
<path class="tw" d="M550.2,169.6 Q551.4,168.6 552.8,169.6 L553,184.6 Q551.6,185.6 550.4,184.6Z" style="stroke-width:.8;stroke:#666"/>
<path class="ld" d="M541.2,169.1 L549.7,172 M540,185.5 L552,189.5"/>
<path d="M553.4,188 L559.6,190.6" style="stroke-width:4.4;stroke-dasharray:1.6 .15;stroke:#111;fill:none"/>
<path class="dw" d="M557.8,174.4 L562.6,174.6 L573,175.6 Q578.6,175.8 579,181 Q578.8,185.6 574,186 L563,185.4 L557.8,184.6Z" style="stroke-width:1"/>
<path class="d" d="M562.6,174.6 L562.8,185.4 M573.4,175.6 Q576,181 573.6,186" style="stroke-width:1"/>
<path class="d" d="M564.6,175.6 Q563.4,180.4 564.6,185 M571.6,176.2 Q573,181 571.4,185.6" style="stroke-width:2"/>
<ellipse cx="568.4" cy="180.6" rx="2" ry="3.6" style="stroke-width:.9;stroke:#444;fill:#fff"/>
<path class="dw" d="M549,193.4 L552,192.8 L571,198 L571.4,203 L569.6,208 L571.8,213.6 L568.6,214.6 L565,209.4 L548.6,206.4 L548.2,197Z" style="stroke-width:1"/>
<path class="d" d="M550,197.6 L552,198 L552,204 L550,203.6Z M561.6,200.6 L565,204.6 L561.4,207.8Z M566,198.6 L565.6,210 M568.6,200 L567.6,206 L569.8,212.6 M549,193.4 L566,198.6 L571,198" style="stroke-width:1"/>
<path class="fs" d="M576.6,198.8 L581.4,199.4 L582.6,206.6 L577.6,207 Q575,203 576.6,198.8Z"/>
<path d="M579,199.6 L579.6,206.6" style="stroke-width:.6;stroke:#777;fill:none"/>
</g>

<!-- 14_cutoff.svg -->
<g id="cutoff">
<path class="dw" d="M62,249.4 L73,247.6 L74.6,246.4 L86,246.2 L91,252.4 L90.4,259.8 L84.4,264.2 L77.6,266.6 L75,265.6 L71.8,260.6 L61.6,258.8 Q58.6,254 62,249.4Z" style="stroke-width:1"/>
<path class="d" d="M73,247.6 Q75.6,254 71.8,260.6 M74.6,246.4 Q79,254 77.6,266.6 M79.6,251.6 L86.4,250.4 L90.6,254.6 M79.6,251.6 Q78.6,257 80.4,262.6 L84.4,264.2 M80.4,262.6 L86,258.4 L86.4,250.4 M66,248.8 L69,248.4" style="stroke-width:.9"/>
<path class="d" d="M57,272.4 L73.6,272.2" style="stroke-width:1.9"/>
<path class="d" d="M66.2,267.6 Q67.6,270 66.4,272" style="stroke-width:1.5"/>
<rect class="dw" x="69.2" y="277.6" width="3.4" height="7.6" style="stroke-width:1"/>
</g>

<!-- 15_bcg_top.svg -->
<g id="bcg-small">
<path class="dw" d="M103.2,358.8 Q104.2,357.6 105.4,358 L110.8,370.2 Q110,371.6 108.6,371.2Z" style="stroke-width:.9"/>
<path class="ld" d="M83,373.8 L111.5,378.6 M87,387 L101.5,388.2"/>
<path class="dw" d="M112,379.6 L116,376.6 L120.6,377.4 L121.4,381.6 L118,385.6 L113.6,386.2 L111,383.4Z" style="stroke-width:1"/>
<path class="d" d="M112.4,380.6 L117.6,381.6 L121,378.4 M117.6,381.6 L117.6,385.4 M114.6,381.4 L114.4,385.6 M119.6,376 L120.6,377.4" style="stroke-width:1.2"/>
<path d="M103.4,389.6 L107.6,386.6" style="stroke-width:4;stroke-dasharray:1.6 .15;stroke:#111;fill:none"/>
<path class="dw" d="M140.4,396.6 L145.6,393.4 L150.8,403.4 Q150,406.4 146,406.8 Z" style="stroke-width:1"/>
<ellipse class="fs" cx="143" cy="395" rx="3" ry="1.5" transform="rotate(-32 143 395)"/>
<ellipse class="dw" cx="148.4" cy="405" rx="2.6" ry="1.6" transform="rotate(-32 148.4 405)" style="stroke-width:1.1"/>
</g>
<g id="bolthead">
<path class="dw" d="M94,396.6 L97,395.8 L101,397.4 L102,402 L108,404 L112,406.6 L119.6,410 Q125.6,411.6 125.4,416.6 Q124.6,421.6 119,421.4 L110,419.4 L106,423 L100,425.4 L94,424.6 Q86,420 86.2,410 Q87,400 94,396.6Z" style="stroke-width:1"/>
<ellipse class="d" cx="92.6" cy="411" rx="5.6" ry="13.6" transform="rotate(-8 92.6 411)" style="stroke-width:1"/>
<path class="d" d="M96,397.6 Q101.6,404 100.6,414 Q99.6,421 96,424.4 M99.6,402.6 Q104,408 103,416 Q102,420.6 100,423.6 M91,405 L95,405.6 L95,410 L91,409.4 M89,414 L93,414.6 L93,420 M104,405 Q107.6,410 106,418 M108,404 Q110.6,409 109.6,416 M102.6,412 Q104.6,410.6 106,412.4" style="stroke-width:1"/>
<ellipse class="dw" cx="119.2" cy="415.8" rx="5.2" ry="5.6" style="stroke-width:1"/>
<ellipse class="d" cx="119.4" cy="415.8" rx="3.4" ry="3.8" style="stroke-width:.8"/>
<path class="d" d="M119.4,415.8 L116.6,414 M119.4,415.8 L122.4,414.6 M119.4,415.8 L119.4,419.4" style="stroke-width:.8"/>
</g>
<g id="bcg-leaders">
<path class="ld" d="M129.2,399.8 L131.6,415 L123.2,426.4 M175.4,408 L142.4,415.8 L133,428.8 M106,455.8 L103,462.8 M85,459.6 L100.6,449.6 M226.6,426 L221.6,438.4"/>
</g>

<!-- 16_bcg_carrier.svg -->
<g id="slide">
<path class="dw" d="M40,424.2 L50.8,428 L58,460.4 L40,458.8 Q24,456 23.8,442.6 Q24.6,427 40,424.2Z" style="stroke-width:1"/>
<path class="d" d="M42,425.6 Q32,430 31.6,443 Q32,455 41,458.8 M40,424.2 Q42.6,427 43,431" style="stroke-width:1"/>
<rect class="dw" x="29.4" y="439.8" width="9.6" height="10.6" rx="2.4" transform="rotate(6 34 445)" style="stroke-width:1"/>
<path class="d" d="M31.6,441.4 L31.4,449.6 L37.4,450.6" style="stroke-width:.8"/>
<path class="d" d="M43.6,436.4 L52,437.6 M43.6,436.4 L43.4,441" style="stroke-width:1"/>
<circle cx="60.8" cy="446.5" r="13.6" style="stroke-width:1;stroke:#1c1c1c;fill:#fff"/>
<circle class="d" cx="60.4" cy="446.7" r="12" style="stroke-width:1.5"/>
<rect class="dw" x="54.8" y="436.6" width="9.6" height="10.6" rx="2" transform="rotate(8 59.6 442)" style="stroke-width:1"/>
<path class="d" d="M57,438 L56.6,446 L59.6,449.6 M59.6,449.6 L63.4,447.8" style="stroke-width:.8"/>
<path class="d" d="M52,453.6 Q56,458.6 63,458.4" style="stroke-width:.9"/>
</g>
<g id="rails">
<path class="dw" d="M61.6,425 L65.4,422.6 L139,437.2 L139,440.6 L73.2,428 L72.6,430 L61.6,428Z" style="stroke-width:1"/>
<path class="d" d="M65.4,422.6 L66,426 M75,424.6 L75,428.4 M101.6,430 L101.6,433.6 M104,430.4 L104,434 M66,426 L139,440" style="stroke-width:.8"/>
<path class="dw" d="M50,426.4 Q47.6,429 50,431.8 L163,454.6 Q167.8,455 168.4,452 Q167.8,449 165,449.2Z" style="stroke-width:1"/>
<path class="d" d="M52,429.4 L140,447" style="stroke-width:1.6"/>
<path class="d" d="M104.6,437.6 L104.6,442.6 M131,442.8 L131,448 M134,443.4 L134,448.6 M136,444.6 L161,449.6 Q163,451.6 161,453.6 M140,447 L158,450.6" style="stroke-width:.9"/>
<circle class="dw" cx="165.6" cy="452" r="2.5" style="stroke-width:1"/>
</g>
<g id="carrier">
<path class="dw" d="M139.2,424.4 L142,419 L146.2,416.4 L169.2,418 L176,422 L186.2,432 L190,440 L193.2,447.4 L190.8,452.8 L168,454.4 L166.4,449.4 L139,443.6 L138.4,432Z" style="stroke-width:1.1"/>
<path class="d" d="M146.2,416.4 L149,420.6 L167,421.6 L169.2,418 M149,420.6 L145,426 L139.2,424.4 M145,426 L172,429.6 L176,422 M172,429.6 L171.4,440 L168,446 M149.6,424 L152,419.4 M156,424.8 L158,420.6 M163,425.6 L164.6,421.4 M176,436 Q172.6,440 174.6,446 L179,449 M186.2,432 L183,440.6 L190,440 M183,440.6 L181,447 L184.6,452 M181,447 L190.8,447.6 M186,442.4 L188.6,446.4" style="stroke-width:1"/>
<path class="d" d="M140.6,433.6 L147,434.6 L146.6,441.4 L140.2,440.2 M150,432.6 L158,433.8 M152.6,438.4 L160,439.6 M163,436.4 L163.4,441.6 M165.6,430.4 L166,434" style="stroke-width:1.3"/>
<circle cx="178.5" cy="433.6" r="4.4" style="stroke-width:1.2;stroke:#1c1c1c;fill:#fff"/>
<circle cx="179" cy="433.8" r="2.9" style="stroke-width:.8;stroke:#333;fill:#fff"/>
<ellipse cx="122.4" cy="428.5" rx="2.5" ry="1.5" transform="rotate(8 122.4 428.5)" style="fill:#111"/>
<circle cx="131.6" cy="430.8" r="1.7" style="stroke-width:.9;stroke:#333;fill:#fff"/>
</g>
<g id="p116-118">
<path class="dw" d="M113.4,449.6 L130,450 Q131.6,451.8 130.2,453.6 L113.4,453.4Z" style="stroke-width:.9"/>
<path class="fs" d="M109.6,449 L113.4,449.2 L113.4,453.8 L109.6,453.4Z"/>
<ellipse class="dw" cx="105.4" cy="452.6" rx="1.6" ry="2.2" style="stroke-width:1.1"/>
<path d="M100.6,448.8 L105,449.6" style="stroke-width:1.5;stroke-linecap:round;stroke:#666;fill:none"/>
</g>
<g id="p109-111">
<path d="M192.6,436.4 L209.4,440.6" style="stroke-width:4.8;stroke-linecap:round;stroke:#111;fill:none"/>
<circle cx="220.4" cy="441.6" r="2.4" style="stroke-width:1.3;stroke:#333;fill:#fff"/>
<g transform="translate(0 1.2)">
<path class="dw" d="M228.6,442 L255.4,446.4 L254.8,449.2 L228.2,444.4 Q227.2,443 228.6,442Z" style="stroke-width:.9"/>
<path class="dw" d="M256,444.6 L259.4,445 L265,445.6 Q269,447.6 268.6,451 Q267.6,454.4 263.6,454 L257.6,452.4 L254.6,451.4Z" style="stroke-width:.9"/>
<path class="d" d="M258,445 L256.6,452 M260,445.2 Q258.4,448.4 259,452.8 M263.6,445.6 Q261,449.4 263,453.8" style="stroke-width:1"/>
</g>
</g>

<!-- 17_tube119.svg -->
<g id="tube119">
<path class="tw" d="M63,492 Q70,489.6 76,491.6 L83.8,498.6 L87.4,500 L148.5,509.2 L162,509.6 L164,547.4 L157.6,547.4 L60.8,528.8 Q50.6,524 50.4,512.6 Q51.6,497 63,492Z" style="stroke-width:.8;stroke:#3a3a3a"/>
<path class="t" d="M66.4,504.6 Q63.6,514 66.4,522 Q68.6,527.6 72.4,530.4 M66.4,504.6 L122,513.8 L126.4,510.6 L146,512.4 M66.4,504.6 Q66.6,499 71.6,496 Q76,494.6 79.6,496.6 M63,492 Q59.6,496.6 59,501.6 L66.4,504.6 M79.6,496.6 Q74.6,499 73,505.6 M52.6,503.6 L59,501.6 M128,512.6 L148,515 M130,514.6 L147,517" style="stroke-width:.8;stroke:#3a3a3a"/>
<ellipse class="tw" cx="162.2" cy="528.4" rx="16.6" ry="19" transform="rotate(6 162.2 528.4)" style="stroke-width:.9;stroke:#3a3a3a"/>
<ellipse class="tw" cx="161.4" cy="528.4" rx="12.6" ry="14.6" transform="rotate(6 161.4 528.4)" style="stroke-width:.9;stroke:#3a3a3a"/>
<path class="t" d="M147,512 L146.6,516 M160,542.8 Q156,544.6 156,547.2 M160,542.8 L166,544.4" style="stroke-width:.8;stroke:#3a3a3a"/>
</g>

<!-- 18_spring112.svg -->
<g id="spring112">
<ellipse cx="190.5" cy="534.5" rx="10.0" ry="14.4" transform="rotate(8 190.5 534.5)" style="stroke-width:.45;stroke:#333;fill:none"/>
<ellipse cx="192.6" cy="534.9" rx="10.1" ry="14.4" transform="rotate(8 192.6 534.9)" style="stroke-width:.45;stroke:#333;fill:none"/>
<ellipse cx="194.7" cy="535.3" rx="10.2" ry="14.5" transform="rotate(8 194.7 535.3)" style="stroke-width:.45;stroke:#333;fill:none"/>
<ellipse cx="196.8" cy="535.6" rx="10.2" ry="14.5" transform="rotate(8 196.8 535.6)" style="stroke-width:.45;stroke:#333;fill:none"/>
<ellipse cx="198.9" cy="536.0" rx="10.3" ry="14.5" transform="rotate(8 198.9 536.0)" style="stroke-width:.45;stroke:#333;fill:none"/>
<ellipse cx="201.0" cy="536.4" rx="10.4" ry="14.6" transform="rotate(8 201.0 536.4)" style="stroke-width:.45;stroke:#333;fill:none"/>
<ellipse cx="203.1" cy="536.8" rx="10.5" ry="14.6" transform="rotate(8 203.1 536.8)" style="stroke-width:.45;stroke:#333;fill:none"/>
<ellipse cx="205.3" cy="537.1" rx="10.6" ry="14.6" transform="rotate(8 205.3 537.1)" style="stroke-width:.45;stroke:#333;fill:none"/>
<ellipse cx="207.4" cy="537.5" rx="10.6" ry="14.7" transform="rotate(8 207.4 537.5)" style="stroke-width:.45;stroke:#333;fill:none"/>
<ellipse cx="209.5" cy="537.9" rx="10.7" ry="14.7" transform="rotate(8 209.5 537.9)" style="stroke-width:.45;stroke:#333;fill:none"/>
<ellipse cx="211.6" cy="538.3" rx="10.8" ry="14.7" transform="rotate(8 211.6 538.3)" style="stroke-width:.45;stroke:#333;fill:none"/>
<ellipse cx="213.7" cy="538.7" rx="10.9" ry="14.8" transform="rotate(8 213.7 538.7)" style="stroke-width:.45;stroke:#333;fill:none"/>
<ellipse cx="215.8" cy="539.0" rx="11.0" ry="14.8" transform="rotate(8 215.8 539.0)" style="stroke-width:.45;stroke:#333;fill:none"/>
<ellipse cx="217.9" cy="539.4" rx="11.1" ry="14.8" transform="rotate(8 217.9 539.4)" style="stroke-width:.45;stroke:#333;fill:none"/>
<ellipse cx="220.0" cy="539.8" rx="11.1" ry="14.9" transform="rotate(8 220.0 539.8)" style="stroke-width:.45;stroke:#333;fill:none"/>
<ellipse cx="222.1" cy="540.2" rx="11.2" ry="14.9" transform="rotate(8 222.1 540.2)" style="stroke-width:.45;stroke:#333;fill:none"/>
<ellipse cx="224.2" cy="540.6" rx="11.3" ry="14.9" transform="rotate(8 224.2 540.6)" style="stroke-width:.45;stroke:#333;fill:none"/>
<ellipse cx="226.3" cy="540.9" rx="11.4" ry="15.0" transform="rotate(8 226.3 540.9)" style="stroke-width:.45;stroke:#333;fill:none"/>
<ellipse cx="228.4" cy="541.3" rx="11.5" ry="15.0" transform="rotate(8 228.4 541.3)" style="stroke-width:.45;stroke:#333;fill:none"/>
<ellipse cx="230.6" cy="541.7" rx="11.5" ry="15.0" transform="rotate(8 230.6 541.7)" style="stroke-width:.45;stroke:#333;fill:none"/>
<ellipse cx="232.7" cy="542.1" rx="11.6" ry="15.0" transform="rotate(8 232.7 542.1)" style="stroke-width:.45;stroke:#333;fill:none"/>
<ellipse cx="234.8" cy="542.4" rx="11.7" ry="15.1" transform="rotate(8 234.8 542.4)" style="stroke-width:.45;stroke:#333;fill:none"/>
<ellipse cx="236.9" cy="542.8" rx="11.8" ry="15.1" transform="rotate(8 236.9 542.8)" style="stroke-width:.45;stroke:#333;fill:none"/>
<ellipse cx="239.0" cy="543.2" rx="11.9" ry="15.1" transform="rotate(8 239.0 543.2)" style="stroke-width:.45;stroke:#333;fill:none"/>
<ellipse cx="241.1" cy="543.6" rx="11.9" ry="15.2" transform="rotate(8 241.1 543.6)" style="stroke-width:.45;stroke:#333;fill:none"/>
<ellipse cx="243.2" cy="544.0" rx="12.0" ry="15.2" transform="rotate(8 243.2 544.0)" style="stroke-width:.45;stroke:#333;fill:none"/>
<ellipse cx="245.3" cy="544.3" rx="12.1" ry="15.2" transform="rotate(8 245.3 544.3)" style="stroke-width:.45;stroke:#333;fill:none"/>
<ellipse cx="247.4" cy="544.7" rx="12.2" ry="15.3" transform="rotate(8 247.4 544.7)" style="stroke-width:.45;stroke:#333;fill:none"/>
<ellipse cx="249.5" cy="545.1" rx="12.3" ry="15.3" transform="rotate(8 249.5 545.1)" style="stroke-width:.45;stroke:#333;fill:none"/>
<ellipse cx="251.6" cy="545.5" rx="12.4" ry="15.3" transform="rotate(8 251.6 545.5)" style="stroke-width:.45;stroke:#333;fill:none"/>
<ellipse cx="253.7" cy="545.9" rx="12.4" ry="15.4" transform="rotate(8 253.7 545.9)" style="stroke-width:.45;stroke:#333;fill:none"/>
<ellipse cx="255.9" cy="546.2" rx="12.5" ry="15.4" transform="rotate(8 255.9 546.2)" style="stroke-width:.45;stroke:#333;fill:none"/>
<ellipse cx="258.0" cy="546.6" rx="12.6" ry="15.4" transform="rotate(8 258.0 546.6)" style="stroke-width:.45;stroke:#333;fill:none"/>
<ellipse cx="260.1" cy="547.0" rx="12.7" ry="15.5" transform="rotate(8 260.1 547.0)" style="stroke-width:.45;stroke:#333;fill:none"/>
<ellipse cx="262.2" cy="547.4" rx="12.8" ry="15.5" transform="rotate(8 262.2 547.4)" style="stroke-width:.45;stroke:#333;fill:none"/>
<ellipse cx="264.3" cy="547.7" rx="12.8" ry="15.5" transform="rotate(8 264.3 547.7)" style="stroke-width:.45;stroke:#333;fill:none"/>
<ellipse cx="266.4" cy="548.1" rx="12.9" ry="15.6" transform="rotate(8 266.4 548.1)" style="stroke-width:.45;stroke:#333;fill:none"/>
<ellipse cx="268.5" cy="548.5" rx="13.0" ry="15.6" transform="rotate(8 268.5 548.5)" style="stroke-width:.45;stroke:#333;fill:none"/>
</g>

<!-- 19_stock.svg -->
<g id="stock35">
<path class="tw" d="M376.2,353.4 Q377,343 387,341.8 Q395,341.4 398.4,344 L409.4,361.6 L411.4,361.2 L477.2,387.2 L478,476 L466,472.6 L420,417.8 L407,421 L399.2,419 L397.6,411 Q396,398 391.6,390.6 Q380,378 377.4,369Z" style="stroke-width:.9;stroke:#2a2a2a"/>
<path class="t" d="M409.4,361.6 Q406.6,364 406.8,368 L403.4,371.6 M404.6,364.6 L408.2,369.4 M412,362.6 L476,388 M399.2,419 Q408,417.4 414,418.4 L420,417.8 M423.6,421.6 L470,476" style="stroke-width:.8;stroke:#2a2a2a"/>
<rect class="tw" x="461" y="386.6" width="29.2" height="90" rx="14.6" ry="29" style="stroke-width:.9;stroke:#2a2a2a"/>
<path class="t" d="M464,402 L463.6,452 Q465,470 474,474 Q484,474.6 487.4,458" style="stroke-width:.7;stroke:#2a2a2a"/>
<circle class="t" cx="474.4" cy="398.2" r="3.6" style="stroke-width:.9;stroke:#2a2a2a"/>
<circle class="t" cx="474.6" cy="398.4" r="1.9" style="stroke-width:.8;stroke:#2a2a2a"/>
<path class="t" d="M470,407.6 L476,405.6 L480,406.6 L480.6,409.6 L484,411.6 L485,422 L484,434 L485,440 L482,447.6 L478,449.4 L471,449 L467.6,444 L468,436 L466,428 L467,418 Z" style="stroke-width:.9;stroke:#2a2a2a"/>
<path class="t" d="M468.4,411 L484.6,423 M467,419 L484.6,432 M467,427.6 L484.4,440 M468,436.6 L482,446.4" style="stroke-width:.8;stroke:#2a2a2a"/>
<path class="t" d="M472,450 L472,459 Q475.6,463.6 479.6,459 L479.6,450 M475.6,452.6 Q474,455 475.6,457.4 Q477.4,455 475.6,452.6" style="stroke-width:.9;stroke:#2a2a2a"/>
</g>
<g id="pad33">
<ellipse class="tw" cx="512.6" cy="455" rx="15.2" ry="46.4" transform="rotate(-3.5 512.6 455)" style="stroke-width:.9;stroke:#2a2a2a"/>
<ellipse class="t" cx="513.4" cy="455.4" rx="13.8" ry="45" transform="rotate(-3.5 513.4 455.4)" style="stroke-width:.8;stroke:#2a2a2a"/>
<ellipse class="t" cx="517" cy="458" rx="9.8" ry="39.6" transform="rotate(-3.5 517 458)" style="stroke-width:.8;stroke:#2a2a2a"/>
<circle cx="515.6" cy="422.6" r=".8" style="fill:#222"/><circle cx="517" cy="478" r=".8" style="fill:#222"/>
</g>
<g id="screws32">
<path d="M535.8,434.8 L544,438.2" style="stroke-width:2.7;stroke-linecap:round;stroke:#111;fill:none"/>
<circle cx="546.2" cy="439" r="2.6" style="stroke-width:1;stroke:#222;fill:#666"/>
<path d="M544.8,438 L547.6,440 M547.2,437.6 L545.2,440.4" style="stroke-width:.6;stroke:#ddd;fill:none"/>
<path d="M537.2,489.9 L545.2,493.6" style="stroke-width:2.7;stroke-linecap:round;stroke:#111;fill:none"/>
<circle cx="547.4" cy="494.4" r="2.6" style="stroke-width:1;stroke:#222;fill:#666"/>
<path d="M546,493.4 L548.8,495.4 M548.4,493 L546.4,495.8" style="stroke-width:.6;stroke:#ddd;fill:none"/>
<path class="ld" d="M549.8,442.4 L567.4,462.6 L552.1,491.5"/>
</g>
<g id="screw40">
<path d="M450.4,458.6 L452.4,462 L452.8,475 L448.2,475 L448.4,462Z" style="stroke-width:.9;stroke:#1c1c1c;fill:#888"/>
<path d="M448.4,463 L452.6,464 M448.4,465.4 L452.6,466.4 M448.4,467.8 L452.6,468.8 M448.4,470.2 L452.6,471.2 M448.4,472.6 L452.6,473.6" style="stroke-width:.9;stroke:#222;fill:none"/>
<path class="dw" d="M446.6,475.6 L454.6,475.6 L455.2,479 L454,482.6 L447.4,482.6 L446,479Z" style="stroke-width:1"/>
<path class="d" d="M446,479 L455.2,479 M449,479 L449,482.6 M452.4,479 L452.4,482.6" style="stroke-width:.8"/>
</g>

<!-- 20_pad36.svg -->
<g id="pad36">
<path class="lw" d="M586,475.6 Q581,477 580.6,484 Q581,492 586,494.4 L597,494 L597,476Z M586,508 Q581,509.4 580.6,516.4 Q581,524.4 586,526.8 L597,526.4 L597,508.4Z" style="stroke:#888"/>
<path class="l" d="M586,475.6 Q590,480 589,488 Q588,493 586,494.4 M586,508 Q590,512.4 589,520.4 Q588,525.4 586,526.8 M587,494.4 L587,508 M592,494 L592,508.4 M591,483 l0,3 M591,515.6 l0,3 M589,470 L597,472 M589,533 L597,531" style="stroke:#888"/>
<path class="dw" d="M608,460.6 Q600,462 597.6,474 Q594,500 596.6,530 Q599,548 606,556 L617,560 L619,462.6Z" style="stroke-width:.9"/>
<path class="d" d="M611,461.6 Q603.6,464 601,476 Q597.6,502 600.4,530 Q602.6,547 609.6,556.6 M597.6,474 L601,476" style="stroke-width:.8"/>
<path class="d" d="M614,462 Q606.6,465 604.4,478 Q601.6,503 604,530 Q606.4,548 613,558" style="stroke-width:1.4"/>
<path class="dw" d="M619.6,462.6 Q631,463.6 633.6,480 Q635.6,510 633,540 Q630,558.6 618,559.6 Q608,558 605.6,540 Q603,510 605.6,482 Q608.6,463.4 619.6,462.6Z" style="stroke-width:1.2"/>
<ellipse cx="602.8" cy="489.6" rx="1.9" ry="2.4" style="fill:#111"/>
<g class="t" style="stroke-width:.9;stroke:#2a2a2a">
<path d="M615,479 Q617,476 621,476.6 L623.6,478.4 L621.6,480.6 L624.6,482.4 L623,485.6 Q620,488.4 616.6,487 L614.6,485 Z"/>
<path d="M613,496 L616.6,491.6 L623,491.6 L627,495.6 L624.6,497 L627,499 L623,501.6 L616.6,501.6 L613,498.4 L615,497.2Z"/>
<path d="M613.6,504 L626,504 L626,521 L613.6,521Z M616,506 L616,519 M623.6,506 L623.6,519 M618.6,508 L618.6,517 L621.4,517 L621.4,508Z"/>
<path d="M612.6,528.6 L616,524 L622.6,524 L626.6,528 L624.2,529.6 L626.6,531.6 L622.6,534 L616,534 L612.6,531 L614.6,529.8Z"/>
<path d="M612.6,537 Q614.6,534.6 618.6,535 L621,536.6 L619,539 L622,541 L620.6,544.4 Q617.6,547 614,545.6 L612,543 Z"/>
</g>
<circle cx="619.2" cy="482.4" r="2" style="fill:#111"/><circle cx="616.8" cy="539.6" r="2" style="fill:#111"/>
</g>

<!-- 21_gripcap.svg -->
<g id="p149">
<path class="tw" d="M375.8,432 Q391,429.6 409.6,434.6 L410.4,448 Q400,450.4 391,449.6 L374.2,445.8 L374.4,436Z" style="stroke-width:.9;stroke:#555"/>
<path class="t" d="M377.4,438 L381,437.4 M377.4,438 L377,444.6 M400,436.6 L408.6,435.8 M401,441.6 L409,441" style="stroke-width:.8;stroke:#555"/>
</g>
<g id="p150">
<path class="dw" d="M375.8,468 L381.2,465.8 L406.6,467.2 L412,470.4 L409.8,482 L406.6,485.2 L383.6,485 L378,482Z" style="stroke-width:.9"/>
<path class="d" d="M375.8,468 L378.2,470.6 L405.8,472.8 L412,470.4 M381.2,465.8 L383,468.4 L404,469.6 L406.6,467.2 M378.2,470.6 L378.6,481 M381.6,471.2 L382,483 M405.8,472.8 L406,484 M392,473.4 Q395,471.6 398.6,473.6 M401,474 Q402,481 403.6,481.6 Q405,480 405.2,474.2" style="stroke-width:.9"/>
<path class="d" d="M377.4,479.4 L392,481.6 M384,478.6 L390,479.6" style="stroke-width:1.6"/>
</g>
<g id="p146">
<path d="M380.2,487.6 L381.3,491 L381.3,508.4 L379.5,508.4 L379.3,491Z" style="stroke-width:.5;stroke:#1a1a1a;fill:#1a1a1a"/>
<ellipse cx="380.6" cy="509.8" rx="2.9" ry="1.5" style="fill:#222"/>
<path d="M406,491.8 L407.1,495 L407.3,512.6 L405.5,512.6 L405.1,495Z" style="stroke-width:.5;stroke:#1a1a1a;fill:#1a1a1a"/>
<ellipse cx="406.6" cy="514" rx="2.9" ry="1.5" style="fill:#222"/>
</g>
<g id="p145">
<path d="M351.4,526.4 L376,527.8 L378,529.2 L376,530.8 L351.2,530.6 Q349.8,528.4 351.4,526.4Z" style="stroke-width:.9;stroke:#666;fill:#ddd"/>
<path d="M353,528.6 L375,529.6" style="stroke-width:1.5;stroke-dasharray:3 1.4;stroke:#555;fill:none"/>
</g>
<g id="p147">
<path class="dw" d="M378.2,532.6 Q377.4,536 380,539.6 Q384,542.6 392,542.4 L416,542 Q424,540 426,534 L428.4,523 Q427,519.6 420,520 L418,522.6 L410,521 L402,519.6 Q397,521 393,526.6 Q388,529.6 380,530.6Z" style="stroke-width:1"/>
<path class="d" d="M399,521 Q404,521.6 408,526.6 Q412.6,535 416,539.6 M402,519.6 Q408,521 411,525.6 Q415,533 418.6,538.4" style="stroke-width:1.3"/>
<path class="d" d="M378.2,532.6 Q390,532.6 395,529 Q399,525.6 400.6,521.4 M417,524 Q414,530 419,537 Q423,534 425.6,524.4 M419.6,521.6 Q421,526 420,532 M417,524 Q419,521 422.6,522 L425.6,524.4" style="stroke-width:.9"/>
<circle class="d" cx="420" cy="521.4" r="1.5" style="stroke-width:.8"/>
</g>

<g class="r">
<text x="124.6" y="104.1" text-anchor="middle">1</text>
<text x="158.4" y="100.5" text-anchor="middle">2</text>
<text x="168.6" y="141.0" text-anchor="middle">3</text>
<text x="130.4" y="146.0" text-anchor="middle">12</text>
<text x="210.2" y="153.5" text-anchor="middle">10</text>
<text x="235.0" y="160.2" text-anchor="middle">7</text>
<text x="238.2" y="172.5" text-anchor="middle">8</text>
<text x="176.9" y="175.0" text-anchor="middle">11</text>
<text x="177.2" y="190.3" text-anchor="middle">9</text>
<text x="229.7" y="205.8" text-anchor="middle">6</text>
<text x="88.5" y="177.0" text-anchor="middle">13</text>
<text x="216.6" y="68.5" text-anchor="middle">5</text>
<text x="256.8" y="71.5" text-anchor="middle">4</text>
<text x="381.9" y="91.5" text-anchor="middle">57</text>
<text x="498.9" y="36.0" text-anchor="middle">59</text>
<text x="513.0" y="98.0" text-anchor="middle">60</text>
<text x="534.5" y="100.5" text-anchor="middle">61</text>
<text x="555.8" y="104.5" text-anchor="middle">62</text>
<text x="523.6" y="138.5" text-anchor="middle">22</text>
<text x="530.2" y="173.5" text-anchor="middle">128</text>
<text x="527.8" y="187.8" text-anchor="middle">129</text>
<text x="588.1" y="177.2" text-anchor="middle">130</text>
<text x="593.1" y="202.5" text-anchor="middle">131</text>
<text x="297.5" y="190.7" text-anchor="middle">14</text>
<text x="351.4" y="201.8" text-anchor="middle">18</text>
<text x="321.2" y="225.9" text-anchor="middle">15</text>
<text x="334.4" y="233.3" text-anchor="middle">16</text>
<text x="314.1" y="240.7" text-anchor="middle">17</text>
<text x="323.4" y="249.3" text-anchor="middle">19</text>
<text x="413.1" y="168.5" text-anchor="middle">22</text>
<text x="443.1" y="179.5" text-anchor="middle">24</text>
<text x="466.1" y="217.3" text-anchor="middle">25</text>
<text x="365.6" y="261.3" text-anchor="middle">20</text>
<text x="409.1" y="262.1" text-anchor="middle">21</text>
<text x="423.8" y="281.9" text-anchor="middle">27</text>
<text x="411.0" y="314.5" text-anchor="middle">31</text>
<text x="344.2" y="325.5" text-anchor="middle">37</text>
<text x="266.0" y="259.3" text-anchor="middle">34</text>
<text x="229.9" y="295.5" text-anchor="middle">66</text>
<text x="212.7" y="331.2" text-anchor="middle">68</text>
<text x="510.8" y="270.9" text-anchor="middle">26</text>
<text x="559.8" y="296.7" text-anchor="middle">28</text>
<text x="575.0" y="317.9" text-anchor="middle">29</text>
<text x="589.8" y="331.9" text-anchor="middle">30</text>
<text x="46.1" y="226.5" text-anchor="middle">17</text>
<text x="43.3" y="274.9" text-anchor="middle">135</text>
<text x="88.2" y="291.7" text-anchor="middle">134</text>
<text x="91.1" y="362.7" text-anchor="middle">105</text>
<text x="71.0" y="375.3" text-anchor="middle">106</text>
<text x="76.1" y="391.0" text-anchor="middle">107</text>
<text x="125.3" y="399.2" text-anchor="middle">114</text>
<text x="144.2" y="371.0" text-anchor="middle">34</text>
<text x="77.9" y="468.9" text-anchor="middle">118</text>
<text x="125.3" y="465.8" text-anchor="middle">116</text>
<text x="101.9" y="473.9" text-anchor="middle">117</text>
<text x="121.0" y="499.2" text-anchor="middle">119</text>
<text x="158.7" y="394.9" text-anchor="middle">108</text>
<text x="185.8" y="410.4" text-anchor="middle">113</text>
<text x="201.2" y="431.8" text-anchor="middle">109</text>
<text x="226.4" y="424.5" text-anchor="middle">110</text>
<text x="249.8" y="441.9" text-anchor="middle">111</text>
<text x="237.3" y="522.5" text-anchor="middle">112</text>
<text x="472.7" y="373.7" text-anchor="middle">35</text>
<text x="363.4" y="431.9" text-anchor="middle">149</text>
<text x="364.6" y="466.3" text-anchor="middle">150</text>
<text x="436.9" y="470.5" text-anchor="middle">40</text>
<text x="366.1" y="504.7" text-anchor="middle">146</text>
<text x="347.0" y="545.5" text-anchor="middle">145</text>
<text x="439.1" y="541.5" text-anchor="middle">147</text>
<text x="527.5" y="409.7" text-anchor="middle">33</text>
<text x="575.5" y="466.6" text-anchor="middle">32</text>
<text x="584.0" y="545.3" text-anchor="middle">36</text>
</g>
<g class="k">
<text x="59.7" y="227.0" font-size="13" textLength="47.2" lengthAdjust="spacingAndGlyphs">CUT-OFF</text>
<text x="536.2" y="139.0" font-size="13" textLength="61.4" lengthAdjust="spacingAndGlyphs">CARTRIDGE</text>
<text x="549.2" y="154.3" font-size="13" textLength="36.2" lengthAdjust="spacingAndGlyphs">LATCH</text>
<text x="157.7" y="371.5" font-size="12.5" textLength="89.5" lengthAdjust="spacingAndGlyphs">Bolt Carrier Group</text>
<text x="444.4" y="565.0" font-size="10.5" textLength="131.2" lengthAdjust="spacingAndGlyphs">© Beretta, used by permission</text>
</g>
</svg>
</body></html>
